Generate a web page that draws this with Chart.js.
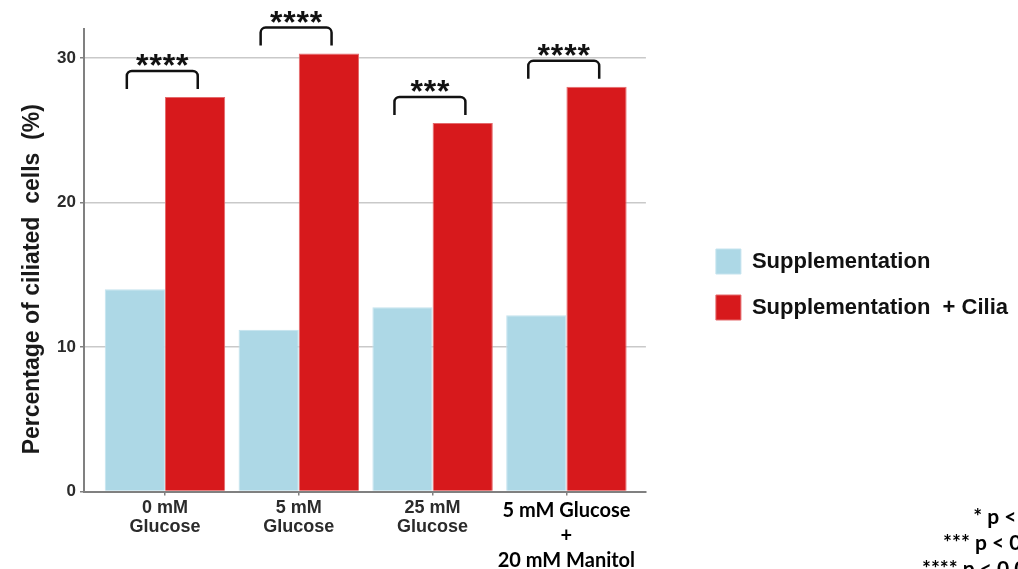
<!DOCTYPE html>
<html>
<head>
<meta charset="utf-8">
<script src="https://cdn.jsdelivr.net/npm/chart.js@4.4.1/dist/chart.umd.min.js"></script>
<style>
  html, body { margin: 0; padding: 0; background: #fff; overflow: hidden; }
  #wrap { width: 1018px; height: 569px; position: relative; }
</style>
</head>
<body>
<div id="wrap"><canvas id="chart"></canvas></div>
<script>
// Conditions on the x axis (multi-line labels)
const categories = [
  ['0 mM', 'Glucose'],
  ['5 mM', 'Glucose'],
  ['25 mM', 'Glucose'],
  ['5 mM Glucose', '+', '20 mM Manitol']
];
const seriesNames = ['Supplementation', 'Supplementation  + Cilia'];
// Percentage of ciliated cells
const supplementation = [14.0, 11.2, 12.75, 12.2];
const supplementationCilia = [27.3, 30.3, 25.5, 28.0];
// Significance marks between the two bars of each condition
const significance = ['****', '****', '***', '****'];
const yTicks = [0, 10, 20, 30];
const pValueNotes = ['* p < 0.05', '*** p < 0.001', '**** p < 0.0001'];

const BLUE = '#add8e6';
const RED = '#d7191c';
const AXIS_GRAY = '#808080';
const SANS = "'Liberation Sans', Arial, sans-serif";
const CALIBRI_LIKE = "Lato, 'Open Sans', sans-serif";

// bracket geometry, in axis units relative to each condition / bar top
const BRACKET_LEFT = -0.285;
const BRACKET_RIGHT = 0.245;
const BRACKET_RISE = 1.8;
const BRACKET_LEG_END = 0.55;

// invisible axis used only to reserve space
const spacer = (position, size) => ({
  type: 'linear',
  position,
  display: true,
  grid: { display: false },
  border: { display: false },
  ticks: { display: false },
  afterFit(s) { if (s.isHorizontal()) s.height = size; else s.width = size; }
});

const significancePlugin = {
  id: 'significance',
  afterDatasetsDraw(chart) {
    const { ctx, scales: { x, y } } = chart;
    ctx.save();
    ctx.strokeStyle = '#111';
    ctx.fillStyle = '#111';
    ctx.lineWidth = 2.5;
    ctx.lineJoin = 'round';
    ctx.lineCap = 'butt';
    significance.forEach((label, i) => {
      const peak = Math.max(supplementation[i], supplementationCilia[i]);
      const xl = x.getPixelForValue(i + BRACKET_LEFT);
      const xr = x.getPixelForValue(i + BRACKET_RIGHT);
      const yt = y.getPixelForValue(peak + BRACKET_RISE);
      const yb = y.getPixelForValue(peak + BRACKET_LEG_END);
      const r = 5;
      ctx.beginPath();
      ctx.moveTo(xl, yb);
      ctx.arcTo(xl, yt, xr, yt, r);
      ctx.arcTo(xr, yt, xr, yb, r);
      ctx.lineTo(xr, yb);
      ctx.stroke();

      ctx.font = `bold 32px ${SANS}`;
      ctx.textAlign = 'center';
      ctx.textBaseline = 'alphabetic';
      const step = 13.3;
      const cx = (xl + xr) / 2;
      const n = label.length;
      for (let k = 0; k < n; k++) {
        ctx.fillText('*', cx + (k - (n - 1) / 2) * step, yt + 5.5);
      }
    });
    ctx.restore();
  },
  afterDraw(chart) {
    const { ctx, chartArea } = chart;
    ctx.save();
    // y axis title
    ctx.translate(chartArea.left - 51, (chartArea.top + chartArea.bottom) / 2 + 19);
    ctx.rotate(-Math.PI / 2);
    ctx.font = `bold 23px ${SANS}`;
    ctx.fillStyle = '#1a1a1a';
    ctx.textAlign = 'center';
    ctx.textBaseline = 'middle';
    ctx.fillText('Percentage of ciliated  cells  (%)', 0, 0);
    ctx.restore();

    // p-value key in the lower right corner
    ctx.save();
    ctx.font = `bold 21px ${CALIBRI_LIKE}`;
    ctx.fillStyle = '#000';
    ctx.textAlign = 'right';
    ctx.textBaseline = 'middle';
    pValueNotes.forEach((t, i) => {
      ctx.fillText(t, chart.width + 45, chartArea.bottom + 26 + i * 26);
    });
    ctx.restore();
  }
};

const asPoints = (arr) => arr.map((v, i) => ({ x: i, y: v }));

new Chart(document.getElementById('chart'), {
  type: 'bar',
  data: {
    datasets: [
      {
        label: seriesNames[0],
        data: asPoints(supplementation),
        backgroundColor: BLUE,
        borderColor: '#c4e3ee',
        borderWidth: 1,
        xAxisID: 'x',
        yAxisID: 'y'
      },
      {
        label: seriesNames[1],
        data: asPoints(supplementationCilia),
        backgroundColor: RED,
        borderColor: '#e46a6c',
        borderWidth: 1,
        xAxisID: 'x',
        yAxisID: 'y'
      }
    ]
  },
  options: {
    responsive: true,
    maintainAspectRatio: false,
    animation: false,
    layout: { padding: 0 },
    categoryPercentage: 0.9,
    barPercentage: 1.0,
    scales: {
      x: {
        type: 'linear',
        position: 'bottom',
        offset: false,
        min: -0.605,
        max: 3.594,
        afterBuildTicks(s) { s.ticks = categories.map((_, i) => ({ value: i })); },
        afterFit(s) { s.height = 77.5; },
        grid: {
          display: true,
          offset: false,
          drawOnChartArea: false,
          drawTicks: true,
          tickLength: 4,
          color: AXIS_GRAY,
          lineWidth: 1.5
        },
        border: { display: true, color: AXIS_GRAY, width: 2 },
        ticks: {
          autoSkip: false,
          maxRotation: 0,
          minRotation: 0,
          padding: 3,
          callback: (v) => categories[v],
          font: (c) => c.index === 3
            ? { family: CALIBRI_LIKE, weight: 'bold', size: 20, lineHeight: 1.25 }
            : { family: SANS, weight: 'bold', size: 18, lineHeight: 1.06 },
          color: (c) => c.index === 3 ? '#000' : '#2b2b2b'
        }
      },
      top: spacer('top', 29),
      y: {
        type: 'linear',
        position: 'left',
        min: 0,
        max: 32,
        afterBuildTicks(s) { s.ticks = yTicks.map(v => ({ value: v })); },
        afterFit(s) { s.width = 84; },
        grid: {
          color: '#c9c9c9',
          lineWidth: 1.5,
          drawTicks: true,
          tickLength: 4,
          tickColor: AXIS_GRAY
        },
        border: { display: true, color: AXIS_GRAY, width: 2 },
        ticks: {
          padding: 4,
          color: '#2b2b2b',
          font: { family: SANS, weight: 'bold', size: 17 }
        }
      },
      gap: spacer('right', 49)
    },
    plugins: {
      legend: {
        position: 'right',
        align: 'center',
        maxWidth: 400,
        labels: {
          boxWidth: 25,
          boxHeight: 25,
          padding: 21,
          color: '#111',
          font: { family: SANS, weight: 'bold', size: 22 }
        }
      },
      tooltip: { enabled: false }
    }
  },
  plugins: [significancePlugin]
});
</script>
</body>
</html>
